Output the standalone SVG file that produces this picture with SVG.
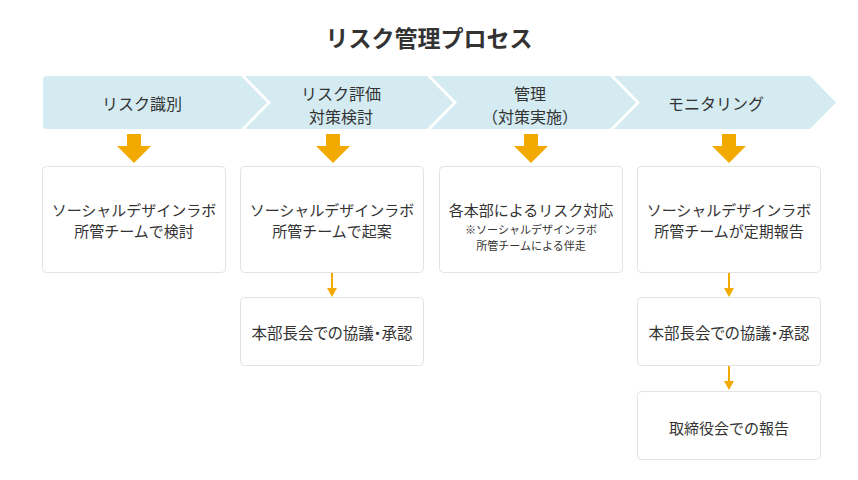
<svg xmlns="http://www.w3.org/2000/svg" width="858" height="480" viewBox="0 0 858 480">
<style>
text{font-family:"Noto Sans CJK JP","Noto Sans",sans-serif;fill:#333;text-anchor:middle;dominant-baseline:central}
.title{font-size:23px;font-weight:bold}
.step{font-size:16px}
.box{fill:#fff;stroke:#e3e3e3;stroke-width:1}
.bt{font-size:15px}
.pt{font-size:15.5px;font-feature-settings:"palt"}
.note{font-size:11px}
.chev{fill:#d4ebf2}
.big{fill:#f2a900}
.line{stroke:#f2a900;stroke-width:2;fill:none}
.head{fill:#f2a900}
</style>
<rect width="858" height="480" fill="#fff"/>
<text class="title" x="429" y="37">リスク管理プロセス</text>

<g id="step1">
<path class="chev" d="M47,76 H241 L267,102.5 L241,129 H47 Q43,129 43,125 V80 Q43,76 47,76 Z"/>
<text class="step" x="142" y="103">リスク識別</text>
</g>
<g id="step2">
<path class="chev" d="M245,76 H427 L453,102.5 L427,129 H245 L271,102.5 Z"/>
<text class="step" x="341" y="92.5">リスク評価</text>
<text class="step" x="341" y="115.5">対策検討</text>
</g>
<g id="step3">
<path class="chev" d="M431,76 H610 L636,102.5 L610,129 H431 L457,102.5 Z"/>
<text class="step" x="530" y="92.5">管理</text>
<text class="step" x="530" y="115.5">（対策実施）</text>
</g>
<g id="step4">
<path class="chev" d="M614,76 H810 L836,102.5 L810,129 H614 L640,102.5 Z"/>
<text class="step" x="716" y="103">モニタリング</text>
</g>

<g id="connectors">
<path class="big" d="M127,134 H141 V146 H151 L134,163 L117,146 H127 Z"/>
<path class="big" d="M326,134 H340 V146 H350 L333,163 L316,146 H326 Z"/>
<path class="big" d="M524,134 H538 V146 H548 L531,163 L514,146 H524 Z"/>
<path class="big" d="M722,134 H736 V146 H746 L729,163 L712,146 H722 Z"/>
<line class="line" x1="332" y1="273" x2="332" y2="289"/>
<path class="head" d="M327,288 H337 L332,297 Z"/>
<line class="line" x1="729" y1="273" x2="729" y2="289"/>
<path class="head" d="M724,288 H734 L729,297 Z"/>
<line class="line" x1="729" y1="366" x2="729" y2="382"/>
<path class="head" d="M724,381 H734 L729,390 Z"/>
</g>

<g id="box1">
<rect class="box" x="42.5" y="166.5" width="183" height="106" rx="4"/>
<text class="bt" x="134" y="209">ソーシャルデザインラボ</text>
<text class="bt" x="134" y="230">所管チームで検討</text>
</g>
<g id="box2">
<rect class="box" x="240.5" y="166.5" width="183" height="106" rx="4"/>
<text class="bt" x="332" y="209">ソーシャルデザインラボ</text>
<text class="bt" x="332" y="230">所管チームで起案</text>
</g>
<g id="box3">
<rect class="box" x="439.5" y="166.5" width="183" height="106" rx="4"/>
<text class="bt" x="531" y="209">各本部によるリスク対応</text>
<text class="note" x="531" y="229">※ソーシャルデザインラボ</text>
<text class="note" x="531" y="245">所管チームによる伴走</text>
</g>
<g id="box4">
<rect class="box" x="637.5" y="166.5" width="183" height="106" rx="4"/>
<text class="bt" x="729" y="209">ソーシャルデザインラボ</text>
<text class="bt" x="729" y="230">所管チームが定期報告</text>
</g>
<g id="box5">
<rect class="box" x="240.5" y="297.5" width="183" height="68" rx="4"/>
<text class="pt" x="332" y="332">本部長会での協議・承認</text>
</g>
<g id="box6">
<rect class="box" x="637.5" y="297.5" width="183" height="68" rx="4"/>
<text class="pt" x="729" y="332">本部長会での協議・承認</text>
</g>
<g id="box7">
<rect class="box" x="637.5" y="391.5" width="183" height="68" rx="4"/>
<text class="bt" x="729" y="427">取締役会での報告</text>
</g>
</svg>
